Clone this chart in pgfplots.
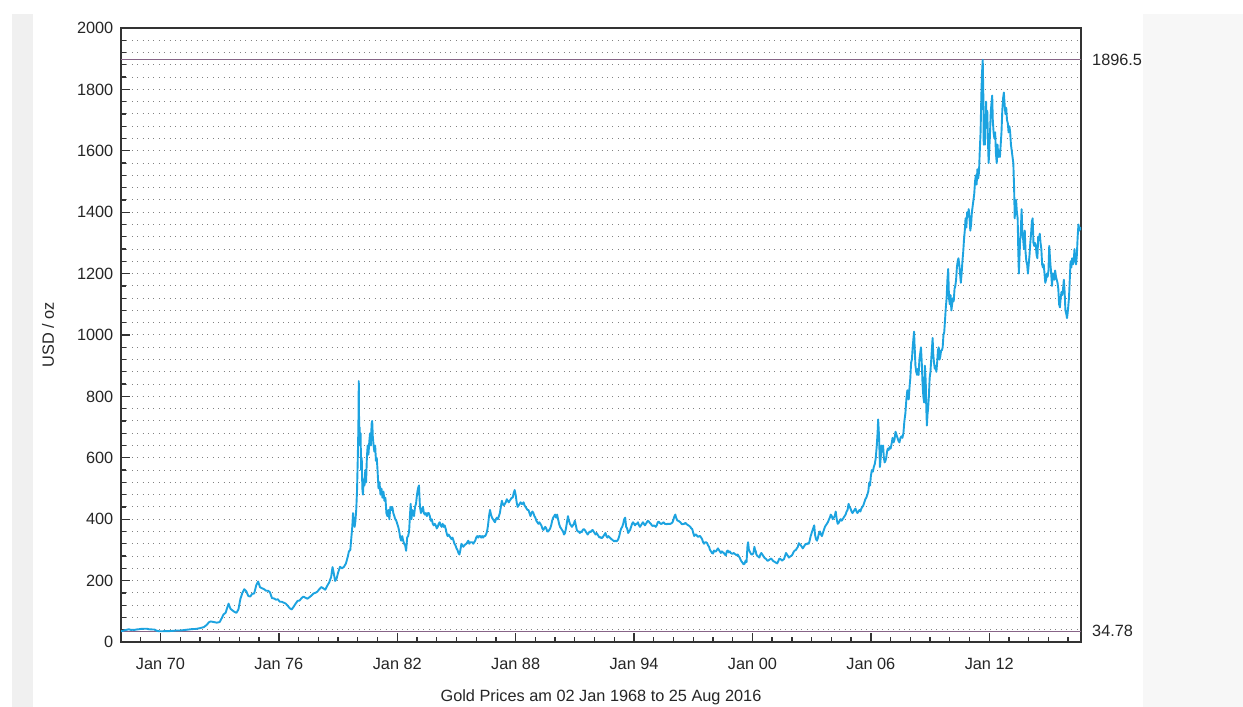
\documentclass[border=0pt]{standalone}
\usepackage{pgfplots}
\usepackage{pgfplotstable}
\pgfplotsset{compat=1.18}
\usepackage{fontspec}
\setmainfont{Liberation Sans}

\definecolor{goldline}{RGB}{28,163,224}
\definecolor{refline}{RGB}{135,100,135}
\definecolor{gridgray}{RGB}{130,130,130}
\definecolor{framegray}{RGB}{51,51,51}

% Gold price, am fix (decimal year, USD/oz)
\pgfplotstableread{
t p
1968.00 35.2
1968.10 36.5
1968.20 38.5
1968.30 40
1968.40 41.5
1968.50 39.5
1968.60 39.8
1968.70 39.5
1968.80 41
1968.90 41.5
1969.00 42.5
1969.10 42.8
1969.20 43.2
1969.30 43.3
1969.40 41.7
1969.50 41.2
1969.60 40.8
1969.70 40.5
1969.80 37
1969.90 35.2
1970.00 35.1
1970.20 35.2
1970.40 35.4
1970.60 36
1970.80 37.4
1971.00 37.4
1971.20 38.9
1971.40 40.5
1971.60 42
1971.80 42.6
1972.00 45
1972.20 48.5
1972.35 56
1972.45 64
1972.55 67
1972.70 65
1972.85 63
1973.00 65
1973.10 77
1973.20 90
1973.30 95
1973.40 115
1973.45 125
1973.55 108
1973.65 103
1973.75 98
1973.85 95
1973.95 106
1974.05 140
1974.15 160
1974.25 172
1974.35 165
1974.45 150
1974.55 148
1974.65 157
1974.75 158
1974.85 184
1974.95 197
1975.05 178
1975.15 175
1975.25 172
1975.35 167
1975.45 167
1975.55 162
1975.65 143
1975.75 142
1975.85 138
1975.95 139
1976.05 131
1976.15 131
1976.25 128
1976.35 125
1976.45 118
1976.55 110
1976.65 106
1976.75 115
1976.85 125
1976.95 134
1977.05 135
1977.15 143
1977.25 148
1977.35 144
1977.45 141
1977.55 146
1977.65 151
1977.75 158
1977.85 160
1977.95 164
1978.05 172
1978.15 179
1978.25 175
1978.35 170
1978.45 183
1978.55 194
1978.65 212
1978.72 244
1978.78 225
1978.85 199
1978.92 205
1979.00 226
1979.10 245
1979.20 240
1979.30 245
1979.40 256
1979.50 280
1979.55 295
1979.62 300
1979.68 345
1979.72 375
1979.76 420
1979.80 385
1979.84 375
1979.88 395
1979.92 430
1979.96 490
1980.00 600
1980.03 700
1980.05 850
1980.07 680
1980.09 700
1980.11 640
1980.14 680
1980.17 560
1980.20 600
1980.23 500
1980.26 480
1980.30 530
1980.34 510
1980.38 560
1980.42 520
1980.46 600
1980.50 640
1980.54 610
1980.58 650
1980.62 680
1980.66 640
1980.70 710
1980.73 720
1980.76 670
1980.80 640
1980.84 620
1980.88 640
1980.92 590
1980.96 600
1981.00 560
1981.05 500
1981.10 520
1981.15 480
1981.20 500
1981.25 470
1981.30 490
1981.35 460
1981.40 470
1981.45 420
1981.50 410
1981.55 430
1981.60 400
1981.65 440
1981.70 430
1981.75 440
1981.80 420
1981.85 410
1981.90 400
1981.95 395
1982.00 385
1982.05 375
1982.10 360
1982.15 340
1982.20 330
1982.25 345
1982.30 330
1982.35 320
1982.40 315
1982.45 297
1982.50 340
1982.55 345
1982.60 360
1982.65 420
1982.68 450
1982.72 400
1982.76 430
1982.80 420
1982.85 410
1982.90 440
1982.95 450
1983.00 480
1983.05 500
1983.10 510
1983.15 440
1983.20 420
1983.25 430
1983.30 440
1983.35 420
1983.40 415
1983.45 420
1983.50 410
1983.55 420
1983.60 420
1983.65 410
1983.70 395
1983.75 400
1983.80 385
1983.85 380
1983.90 385
1983.95 380
1984.00 370
1984.05 375
1984.10 385
1984.15 390
1984.20 380
1984.25 375
1984.30 385
1984.35 375
1984.40 380
1984.45 370
1984.50 355
1984.55 345
1984.60 350
1984.65 345
1984.70 340
1984.75 335
1984.80 340
1984.85 330
1984.90 320
1984.95 315
1985.00 305
1985.05 300
1985.10 290
1985.15 285
1985.20 300
1985.25 320
1985.30 315
1985.35 310
1985.40 315
1985.45 318
1985.50 320
1985.55 325
1985.60 330
1985.65 320
1985.70 325
1985.75 325
1985.80 325
1985.85 320
1985.90 325
1985.95 330
1986.00 340
1986.05 345
1986.10 340
1986.15 345
1986.20 345
1986.25 340
1986.30 345
1986.35 340
1986.40 345
1986.45 345
1986.50 350
1986.55 360
1986.60 380
1986.65 410
1986.70 430
1986.75 415
1986.80 405
1986.85 400
1986.90 395
1986.95 390
1987.00 400
1987.05 405
1987.10 400
1987.15 410
1987.20 420
1987.25 440
1987.30 460
1987.35 450
1987.40 445
1987.45 450
1987.50 455
1987.55 465
1987.60 460
1987.65 455
1987.70 460
1987.75 465
1987.80 470
1987.85 470
1987.90 485
1987.95 495
1988.00 480
1988.05 455
1988.10 440
1988.15 445
1988.20 450
1988.25 455
1988.30 450
1988.35 450
1988.40 455
1988.45 445
1988.50 440
1988.55 435
1988.60 430
1988.65 430
1988.70 420
1988.75 410
1988.80 420
1988.85 425
1988.90 420
1988.95 410
1989.00 405
1989.05 395
1989.10 390
1989.15 385
1989.20 390
1989.25 385
1989.30 380
1989.35 370
1989.40 365
1989.45 370
1989.50 375
1989.55 370
1989.60 360
1989.65 360
1989.70 365
1989.75 370
1989.80 380
1989.85 395
1989.90 405
1989.95 410
1990.00 415
1990.05 405
1990.10 415
1990.15 400
1990.20 385
1990.25 375
1990.30 370
1990.35 365
1990.40 360
1990.45 350
1990.50 355
1990.55 370
1990.60 390
1990.65 410
1990.70 395
1990.75 385
1990.80 380
1990.85 375
1990.90 380
1990.95 385
1991.00 395
1991.05 380
1991.10 365
1991.15 360
1991.20 360
1991.25 355
1991.30 360
1991.35 358
1991.40 365
1991.45 368
1991.50 365
1991.55 360
1991.60 355
1991.65 350
1991.70 355
1991.75 360
1991.80 358
1991.85 362
1991.90 365
1991.95 360
1992.00 355
1992.05 350
1992.10 355
1992.15 350
1992.20 345
1992.25 340
1992.30 342
1992.35 338
1992.40 340
1992.45 345
1992.50 350
1992.55 355
1992.60 345
1992.65 340
1992.70 345
1992.75 342
1992.80 338
1992.85 335
1992.90 333
1992.95 330
1993.00 328
1993.05 330
1993.10 328
1993.15 330
1993.20 335
1993.25 345
1993.30 360
1993.35 370
1993.40 375
1993.45 385
1993.50 400
1993.55 405
1993.60 375
1993.65 370
1993.70 355
1993.75 360
1993.80 365
1993.85 375
1993.90 385
1993.95 390
1994.00 385
1994.05 380
1994.10 385
1994.15 385
1994.20 390
1994.25 380
1994.30 375
1994.35 380
1994.40 385
1994.45 390
1994.50 385
1994.55 380
1994.60 385
1994.65 390
1994.70 395
1994.75 392
1994.80 388
1994.85 385
1994.90 380
1994.95 378
1995.00 380
1995.05 378
1995.10 375
1995.15 380
1995.20 390
1995.25 392
1995.30 388
1995.35 385
1995.40 385
1995.45 388
1995.50 390
1995.55 385
1995.60 385
1995.65 383
1995.70 385
1995.75 385
1995.80 385
1995.85 385
1995.90 387
1995.95 390
1996.00 400
1996.05 410
1996.09 415
1996.13 405
1996.20 395
1996.25 395
1996.30 392
1996.35 390
1996.40 385
1996.45 383
1996.50 385
1996.55 385
1996.60 388
1996.65 385
1996.70 382
1996.75 380
1996.80 378
1996.85 375
1996.90 370
1996.95 368
1997.00 355
1997.05 345
1997.10 350
1997.15 350
1997.20 345
1997.25 342
1997.30 345
1997.35 345
1997.40 340
1997.45 335
1997.50 325
1997.55 320
1997.60 325
1997.65 325
1997.70 322
1997.75 315
1997.80 310
1997.85 300
1997.90 295
1997.95 290
1998.00 288
1998.05 298
1998.10 295
1998.15 295
1998.20 300
1998.25 305
1998.30 300
1998.35 295
1998.40 290
1998.45 295
1998.50 292
1998.55 290
1998.60 285
1998.65 282
1998.70 295
1998.75 298
1998.80 292
1998.85 295
1998.90 290
1998.95 288
1999.00 288
1999.05 290
1999.10 287
1999.15 285
1999.20 282
1999.25 285
1999.30 280
1999.35 275
1999.40 268
1999.45 262
1999.50 258
1999.55 253
1999.60 255
1999.65 265
1999.70 260
1999.75 315
1999.78 325
1999.82 300
1999.86 295
1999.90 290
1999.95 285
2000.00 285
2000.05 290
2000.10 310
2000.13 300
2000.17 295
2000.20 285
2000.25 280
2000.30 278
2000.35 275
2000.40 285
2000.45 290
2000.50 285
2000.55 280
2000.60 275
2000.65 272
2000.70 270
2000.75 265
2000.80 265
2000.85 268
2000.90 270
2000.95 272
2001.00 268
2001.05 264
2001.10 262
2001.15 260
2001.20 258
2001.25 256
2001.30 262
2001.35 270
2001.40 272
2001.45 268
2001.50 265
2001.55 268
2001.60 270
2001.65 280
2001.70 290
2001.75 285
2001.80 280
2001.85 275
2001.90 278
2001.95 280
2002.00 282
2002.05 288
2002.10 295
2002.15 298
2002.20 300
2002.25 305
2002.30 310
2002.35 322
2002.40 318
2002.45 315
2002.50 310
2002.55 305
2002.60 310
2002.65 315
2002.70 320
2002.75 318
2002.80 322
2002.85 320
2002.90 330
2002.95 345
2003.00 355
2003.05 365
2003.10 375
2003.13 380
2003.17 350
2003.22 335
2003.27 330
2003.32 340
2003.37 355
2003.42 360
2003.47 350
2003.52 345
2003.57 355
2003.62 365
2003.67 375
2003.72 380
2003.77 385
2003.82 390
2003.87 398
2003.92 405
2003.97 415
2004.02 410
2004.07 400
2004.12 405
2004.17 410
2004.22 425
2004.27 400
2004.32 385
2004.37 388
2004.42 395
2004.47 400
2004.52 395
2004.57 400
2004.62 405
2004.67 410
2004.72 415
2004.77 425
2004.82 430
2004.87 450
2004.92 440
2004.97 435
2005.02 425
2005.07 420
2005.12 425
2005.17 430
2005.22 435
2005.27 425
2005.32 420
2005.37 425
2005.42 430
2005.47 425
2005.52 435
2005.57 440
2005.62 445
2005.67 455
2005.72 465
2005.77 470
2005.82 480
2005.87 490
2005.92 520
2005.96 510
2006.00 540
2006.05 560
2006.10 555
2006.15 570
2006.20 580
2006.25 600
2006.30 640
2006.34 680
2006.37 725
2006.40 690
2006.43 640
2006.46 570
2006.50 600
2006.54 640
2006.58 620
2006.62 640
2006.66 600
2006.70 585
2006.74 590
2006.78 600
2006.82 620
2006.86 630
2006.90 625
2006.95 635
2007.00 630
2007.05 645
2007.10 665
2007.15 650
2007.20 660
2007.25 685
2007.30 675
2007.35 665
2007.40 655
2007.45 650
2007.50 665
2007.55 670
2007.60 665
2007.65 680
2007.70 720
2007.75 745
2007.80 790
2007.85 820
2007.88 800
2007.92 790
2007.96 830
2008.00 860
2008.04 910
2008.08 920
2008.12 960
2008.16 990
2008.19 1011
2008.22 960
2008.26 900
2008.30 880
2008.34 870
2008.38 890
2008.42 870
2008.46 920
2008.50 940
2008.54 960
2008.58 910
2008.62 840
2008.66 800
2008.70 780
2008.74 900
2008.78 850
2008.81 760
2008.84 705
2008.87 740
2008.90 760
2008.94 800
2008.98 860
2009.02 880
2009.06 920
2009.10 960
2009.13 990
2009.16 940
2009.20 910
2009.24 890
2009.28 900
2009.32 880
2009.36 910
2009.40 950
2009.44 960
2009.48 920
2009.52 930
2009.56 950
2009.60 950
2009.64 960
2009.68 1000
2009.72 1010
2009.76 1050
2009.80 1090
2009.84 1120
2009.88 1180
2009.92 1215
2009.96 1120
2010.00 1100
2010.04 1130
2010.08 1080
2010.12 1100
2010.16 1120
2010.20 1110
2010.24 1150
2010.28 1160
2010.32 1180
2010.36 1220
2010.40 1240
2010.44 1250
2010.48 1230
2010.52 1200
2010.56 1170
2010.60 1200
2010.64 1240
2010.68 1270
2010.72 1310
2010.76 1340
2010.80 1380
2010.84 1350
2010.88 1400
2010.92 1385
2010.96 1410
2011.00 1380
2011.04 1340
2011.08 1360
2011.12 1400
2011.16 1420
2011.20 1440
2011.24 1460
2011.28 1500
2011.32 1520
2011.36 1490
2011.40 1540
2011.44 1510
2011.48 1530
2011.52 1600
2011.56 1660
2011.60 1780
2011.63 1850
2011.67 1896
2011.70 1780
2011.72 1620
2011.75 1680
2011.78 1620
2011.81 1700
2011.84 1760
2011.87 1680
2011.90 1730
2011.94 1620
2011.97 1560
2012.00 1600
2012.04 1660
2012.08 1730
2012.12 1760
2012.15 1780
2012.18 1700
2012.22 1660
2012.26 1640
2012.30 1660
2012.34 1590
2012.38 1560
2012.42 1620
2012.46 1580
2012.50 1600
2012.54 1580
2012.58 1620
2012.62 1660
2012.66 1730
2012.70 1770
2012.74 1790
2012.78 1750
2012.82 1720
2012.86 1740
2012.90 1700
2012.94 1690
2012.98 1660
2013.02 1680
2013.06 1660
2013.10 1620
2013.14 1600
2013.18 1580
2013.22 1560
2013.26 1480
2013.29 1380
2013.32 1420
2013.36 1440
2013.40 1400
2013.44 1380
2013.47 1280
2013.50 1200
2013.53 1250
2013.56 1300
2013.60 1340
2013.64 1410
2013.68 1330
2013.72 1310
2013.76 1280
2013.80 1340
2013.84 1270
2013.88 1240
2013.92 1230
2013.96 1200
2014.00 1230
2014.04 1260
2014.08 1300
2014.12 1330
2014.16 1370
2014.20 1380
2014.24 1300
2014.28 1290
2014.32 1300
2014.36 1290
2014.40 1260
2014.44 1250
2014.48 1320
2014.52 1310
2014.56 1330
2014.60 1300
2014.64 1280
2014.68 1230
2014.72 1220
2014.76 1230
2014.80 1200
2014.84 1170
2014.88 1180
2014.92 1200
2014.96 1190
2015.00 1210
2015.04 1290
2015.07 1260
2015.10 1230
2015.14 1200
2015.18 1160
2015.22 1200
2015.26 1200
2015.30 1180
2015.34 1210
2015.38 1190
2015.42 1180
2015.46 1170
2015.50 1150
2015.54 1100
2015.58 1090
2015.62 1120
2015.66 1140
2015.70 1130
2015.74 1150
2015.78 1180
2015.82 1140
2015.86 1080
2015.90 1070
2015.94 1055
2015.97 1070
2016.00 1090
2016.04 1120
2016.08 1180
2016.12 1240
2016.16 1220
2016.20 1250
2016.24 1230
2016.28 1240
2016.32 1280
2016.36 1250
2016.40 1230
2016.44 1260
2016.48 1320
2016.52 1360
2016.56 1340
2016.60 1350
2016.65 1342
}\gold

\begin{document}
\begin{tikzpicture}
  % page: white sheet with light grey margins
  \path[use as bounding box] (0,0) rectangle (1243pt,707pt);
  \fill[white] (0,0) rectangle (1243pt,707pt);
  \fill[black!6] (12pt,0) rectangle (33pt,693pt);
  \fill[black!3] (1143pt,0) rectangle (1243pt,693pt);

  \begin{axis}[
      at={(121pt,65pt)}, anchor=south west,
      scale only axis,
      width=960pt, height=614pt,
      xmin=1968.0, xmax=2016.65,
      ymin=0, ymax=2000,
      xtick={1970,1976,...,2012},
      xticklabels={Jan 70,Jan 76,Jan 82,Jan 88,Jan 94,Jan 00,Jan 06,Jan 12},
      minor xtick={1969,...,2016},
      ytick={0,200,...,2000},
      minor ytick={40,80,...,1960},
      tick pos=left,
      tick align=inside,
      major tick length=9pt,
      minor tick length=5pt,
      every tick/.style={framegray, line width=1.3pt},
      axis line style={framegray, line width=1.6pt},
      ymajorgrids, yminorgrids,
      major grid style={gridgray, line width=1pt, dash pattern=on 1pt off 4.4pt},
      minor grid style={gridgray, line width=1pt, dash pattern=on 1pt off 4.4pt},
      /pgf/number format/assume math mode=true,
      /pgf/number format/1000 sep={},
      tick label style={font=\fontsize{16.3}{19}\selectfont, black!85},
      yticklabel style={anchor=east, inner sep=0pt, xshift=-7.5pt},
      xticklabel style={anchor=north, inner sep=0pt, yshift=-16pt},
      label style={font=\fontsize{16.3}{19}\selectfont, black!85},
      xlabel={Gold Prices am 02 Jan 1968 to 25 Aug 2016},
      xlabel style={at={(axis description cs:0.5,0)}, anchor=base, inner sep=0pt, yshift=-59.5pt},
      ylabel={USD / oz},
      ylabel style={at={(axis description cs:-0.0698,0.5)}, anchor=base, inner sep=0pt},
      clip mode=individual,
    ]

    % reference lines: maximum and minimum of the period
    \addplot[refline, line width=1.1pt] coordinates {(1968.0,1896.5) (2016.65,1896.5)};
    \addplot[refline, line width=1.1pt] coordinates {(1968.0,34.78) (2016.65,34.78)};

    \addplot[goldline, line width=1.9pt, line join=round] table[x=t, y=p] {\gold};

    \node[anchor=west, inner sep=0pt, xshift=11pt, font=\fontsize{16.3}{19}\selectfont, black!85]
      at (axis cs:2016.65,1896.5) {1896.5};
    \node[anchor=west, inner sep=0pt, xshift=11pt, font=\fontsize{16.3}{19}\selectfont, black!85]
      at (axis cs:2016.65,34.78) {34.78};
  \end{axis}
\end{tikzpicture}
\end{document}
